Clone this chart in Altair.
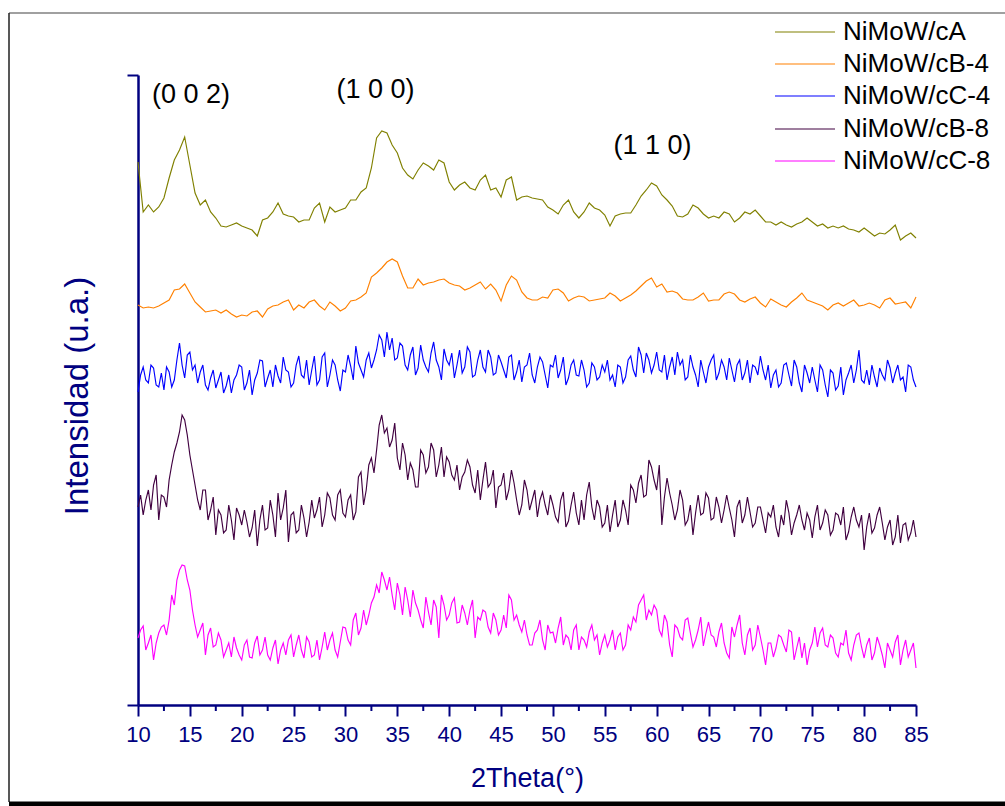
import altair as alt
import pandas as pd

# 2-theta grids (degrees): main readings every 0.5 deg, extra readings in between for noisy patterns
two_theta = [round(10 + 0.5 * i, 2) for i in range(151)]
half_theta = [round(10.25 + 0.5 * i, 2) for i in range(150)]

# intensities (a.u., curves offset vertically as in the original figure)
cA = [543, 493, 500, 493, 498, 507, 527, 545, 555, 568,
      540, 512, 500, 505, 493, 487, 479, 478, 480, 482,
      479, 477, 475, 469, 485, 487, 493, 502, 491, 489,
      488, 483, 485, 485, 497, 502, 483, 498, 493, 495,
      497, 505, 505, 513, 517, 537, 567, 574, 572, 560,
      552, 537, 530, 526, 535, 542, 539, 535, 545, 542,
      523, 515, 520, 523, 517, 515, 525, 530, 515, 517,
      508, 525, 528, 505, 508, 509, 507, 506, 505, 498,
      495, 491, 500, 505, 493, 487, 493, 502, 497, 495,
      490, 479, 489, 491, 492, 492, 500, 509, 515, 522,
      519, 510, 505, 499, 489, 488, 491, 500, 497, 491,
      487, 489, 487, 493, 491, 483, 487, 493, 491, 495,
      489, 483, 483, 480, 483, 480, 478, 481, 483, 487,
      483, 479, 481, 477, 479, 477, 479, 476, 475, 473,
      477, 473, 469, 472, 471, 475, 480, 465, 469, 472,
      467]

cB4 = [400, 397, 398, 397, 399, 402, 405, 415, 416, 421,
       412, 403, 398, 393, 394, 395, 392, 395, 391, 388,
       390, 389, 393, 394, 388, 396, 399, 400, 403, 405,
       395, 400, 397, 403, 405, 399, 395, 403, 399, 394,
       397, 404, 405, 408, 412, 428, 432, 437, 443, 446,
       443, 429, 417, 417, 426, 420, 422, 423, 425, 426,
       422, 420, 419, 415, 417, 420, 423, 416, 421, 415,
       404, 420, 429, 425, 413, 407, 405, 405, 408, 407,
       415, 416, 412, 404, 407, 409, 408, 404, 405, 406,
       407, 412, 409, 404, 407, 410, 414, 419, 424, 427,
       418, 421, 413, 414, 412, 406, 405, 405, 408, 412,
       404, 405, 405, 411, 413, 411, 405, 403, 406, 408,
       402, 398, 406, 403, 400, 398, 403, 407, 412, 405,
       403, 401, 399, 395, 400, 402, 399, 402, 405, 399,
       400, 402, 400, 397, 405, 407, 401, 402, 403, 397,
       408]

cC4 = [313, 338, 322, 337, 318, 315, 333, 325, 362, 327,
       353, 340, 333, 320, 327, 317, 333, 319, 312, 330,
       338, 322, 310, 332, 344, 327, 318, 329, 348, 333,
       322, 349, 327, 320, 349, 325, 352, 330, 340, 314,
       333, 339, 359, 335, 345, 337, 355, 365, 373, 367,
       347, 359, 335, 358, 337, 345, 333, 363, 338, 356,
       340, 327, 355, 338, 353, 330, 355, 333, 348, 332,
       343, 327, 350, 333, 323, 340, 330, 338, 343, 317,
       338, 327, 348, 327, 345, 329, 335, 322, 338, 328,
       333, 325, 318, 338, 328, 349, 328, 350, 352, 332,
       353, 333, 325, 348, 353, 345, 328, 338, 318, 333,
       338, 350, 332, 338, 347, 323, 345, 332, 322, 338,
       349, 325, 317, 335, 322, 342, 319, 338, 313, 332,
       338, 313, 335, 308, 332, 319, 310, 332, 322, 355,
       322, 320, 328, 337, 325, 337, 332, 325, 313, 338,
       318]
cC4_half = [330, 325, 340, 320, 332, 338, 318, 345, 340, 350,
            335, 322, 340, 315, 335, 325, 312, 330, 325, 340,
            315, 335, 325, 345, 318, 335, 340, 322, 335, 318,
            340, 330, 345, 335, 320, 348, 318, 345, 325, 335,
            350, 325, 342, 328, 352, 345, 370, 348, 355, 345,
            362, 340, 350, 330, 360, 338, 352, 345, 325, 345,
            352, 340, 332, 358, 328, 345, 338, 355, 330, 350,
            335, 348, 325, 345, 338, 352, 322, 348, 330, 340,
            350, 335, 320, 340, 330, 345, 318, 342, 325, 340,
            345, 330, 340, 322, 345, 335, 358, 332, 345, 340,
            335, 350, 338, 330, 340, 325, 350, 330, 345, 322,
            345, 325, 345, 325, 335, 340, 325, 345, 340, 330,
            335, 340, 330, 318, 340, 330, 345, 322, 340, 322,
            325, 340, 320, 335, 315, 338, 325, 340, 335, 325,
            335, 340, 318, 330, 345, 322, 340, 328, 340, 325]

cB8 = [198, 190, 215, 220, 185, 208, 225, 253, 273, 285,
       250, 220, 195, 215, 195, 170, 190, 175, 185, 197,
       180, 183, 177, 159, 200, 177, 190, 212, 197, 163,
       193, 175, 187, 183, 187, 208, 190, 207, 185, 215,
       188, 210, 193, 233, 215, 247, 255, 290, 277, 265,
       247, 262, 225, 235, 218, 250, 238, 255, 240, 228,
       243, 225, 215, 233, 238, 212, 205, 243, 222, 197,
       220, 205, 235, 205, 200, 215, 205, 188, 213, 190,
       200, 183, 213, 184, 213, 180, 185, 223, 185, 198,
       182, 173, 205, 185, 195, 220, 202, 230, 210, 238,
       215, 180, 227, 200, 195, 205, 185, 170, 210, 192,
       207, 187, 198, 195, 197, 168, 205, 190, 193, 182,
       198, 172, 188, 178, 190, 205, 170, 190, 185, 192,
       167, 200, 182, 190, 175, 190, 198, 173, 198, 178,
       155, 192, 177, 198, 165, 185, 168, 162, 182, 172,
       168]
cB8_half = [210, 205, 195, 230, 210, 198, 240, 262, 290, 270,
            235, 205, 215, 185, 208, 195, 172, 200, 165, 190,
            195, 168, 195, 185, 175, 205, 168, 185, 215, 190,
            172, 200, 168, 205, 195, 178, 212, 190, 210, 192,
            205, 185, 228, 200, 240, 232, 280, 272, 258, 282,
            235, 250, 242, 218, 255, 232, 262, 228, 258, 248,
            230, 240, 228, 245, 220, 235, 225, 218, 235, 218,
            232, 215, 222, 190, 225, 195, 215, 205, 200, 210,
            188, 205, 178, 200, 192, 205, 210, 198, 205, 178,
            200, 190, 178, 205, 180, 215, 222, 208, 245, 225,
            240, 208, 212, 185, 215, 180, 200, 192, 190, 212,
            185, 208, 182, 210, 185, 198, 182, 208, 178, 198,
            185, 192, 200, 168, 180, 192, 182, 200, 175, 185,
            188, 175, 195, 170, 192, 180, 165, 188, 185, 190,
            178, 172, 190, 182, 178, 160, 190, 180, 165, 185]

cC8 = [67, 79, 62, 45, 72, 80, 85, 100, 135, 139,
       115, 80, 75, 50, 77, 60, 65, 55, 48, 57,
       45, 65, 47, 69, 55, 50, 57, 41, 62, 65,
       48, 70, 47, 63, 50, 45, 73, 65, 55, 63,
       77, 60, 92, 77, 80, 102, 120, 133, 115, 110,
       122, 90, 105, 115, 95, 77, 93, 105, 67, 100,
       90, 107, 83, 92, 95, 67, 85, 93, 72, 85,
       75, 77, 105, 90, 73, 70, 60, 75, 65, 80,
       73, 77, 60, 67, 75, 55, 65, 73, 65, 50,
       70, 65, 55, 72, 60, 75, 83, 105, 85, 90,
       95, 69, 83, 48, 77, 65, 87, 58, 75, 59,
       83, 68, 73, 62, 47, 68, 90, 50, 77, 60,
       68, 40, 62, 57, 68, 53, 73, 57, 47, 40,
       62, 58, 77, 58, 67, 48, 60, 52, 60, 72,
       47, 67, 52, 60, 37, 55, 63, 40, 65, 55,
       37]
cC8_half = [75, 55, 70, 62, 78, 70, 110, 125, 140, 125,
            95, 68, 82, 70, 58, 72, 48, 62, 68, 50,
            60, 48, 62, 50, 68, 45, 65, 55, 50, 70,
            60, 55, 68, 48, 65, 58, 55, 72, 48, 78,
            65, 85, 70, 95, 90, 108, 112, 125, 128, 95,
            110, 118, 88, 102, 85, 108, 80, 98, 110, 85,
            102, 82, 100, 80, 105, 88, 95, 78, 92, 70,
            90, 110, 85, 80, 85, 60, 72, 85, 55, 72,
            62, 88, 70, 55, 80, 68, 58, 80, 70, 62,
            58, 75, 68, 55, 80, 88, 100, 110, 95, 100,
            75, 90, 60, 80, 68, 85, 72, 65, 88, 72,
            70, 58, 82, 52, 78, 80, 62, 70, 55, 80,
            55, 62, 48, 70, 60, 75, 45, 68, 62, 55,
            78, 72, 60, 70, 52, 62, 75, 45, 70, 58,
            60, 45, 68, 50, 62, 48, 70, 55, 48, 62]

names = ["NiMoW/cA", "NiMoW/cB-4", "NiMoW/cC-4", "NiMoW/cB-8", "NiMoW/cC-8"]
colors = ["#808000", "#FF8000", "#0000FF", "#400040", "#FF00FF"]
series = [cA, cB4, cC4, cB8, cC8]
series_half = [[], [], cC4_half, cB8_half, cC8_half]

peak_labels = ["(0 0 2)", "(1 0 0)", "(1 1 0)"]
peak_x = [15.1, 32.9, 59.6]
peak_y = [610, 615, 559]

major_ticks = list(range(10, 90, 5))
minor_ticks = [12.5 + 5 * i for i in range(15)]

NAVY = "#000080"
FONT = "Liberation Sans"

xscale = alt.Scale(domain=[10, 85], nice=False, zero=False)
yscale = alt.Scale(domain=[0, 630], nice=False, zero=False)
xaxis = alt.Axis(values=major_ticks, title="2Theta(°)", grid=False, labelFlush=False,
                 labelOverlap=False, labelBound=False)
yaxis = alt.Axis(values=[0, 630], labels=False, title=None, grid=False)


def X(field):
    return alt.X(field, scale=xscale, axis=xaxis)


def Y(field):
    return alt.Y(field, scale=yscale, axis=yaxis)


layers = []
for i, (name, vals, hv) in enumerate(zip(names, series, series_half)):
    d = pd.DataFrame({"theta": two_theta[:len(vals)] + half_theta[:len(hv)],
                      "I": vals[:len(two_theta)] + hv[:len(half_theta)]})
    d = d.sort_values("theta")
    layers.append(
        alt.Chart(d).mark_line(color=colors[i], strokeWidth=1.15).encode(
            x=X("theta:Q"), y=Y("I:Q"), order="theta:Q")
    )

# minor ticks on x axis
layers.append(
    alt.Chart(pd.DataFrame({"theta": minor_ticks})).mark_rule(color=NAVY, strokeWidth=2).encode(
        x=X("theta:Q"), y=alt.value(630), y2=alt.value(636))
)

# peak annotations
layers.append(
    alt.Chart(pd.DataFrame({"lab": peak_labels, "theta": peak_x, "I": peak_y})).mark_text(
        fontSize=27, font=FONT, color="black", align="center", baseline="middle").encode(
        x=X("theta:Q"), y=Y("I:Q"), text="lab:N")
)

# y title
layers.append(
    alt.Chart(pd.DataFrame({"t": ["Intensidad (u.a.)"]})).mark_text(
        fontSize=33, font=FONT, color=NAVY, angle=270, align="center", baseline="middle").encode(
        x=alt.value(-60), y=alt.value(321), text="t:N")
)

# manual legend
leg_y = [-43, -11, 21, 54, 86]
for name, col, ly in zip(names, colors, leg_y):
    dd = pd.DataFrame({"t": [name]})
    layers.append(alt.Chart(dd).mark_rule(color=col, strokeWidth=1.2).encode(
        x=alt.value(637), x2=alt.value(697), y=alt.value(ly)))
    layers.append(alt.Chart(dd).mark_text(fontSize=26, font=FONT, color="black", align="left",
                                          baseline="middle").encode(
        x=alt.value(705), y=alt.value(ly), text="t:N"))

# outer frame
fr = pd.DataFrame({"a": [0]})
layers.append(alt.Chart(fr).mark_rule(color="#808080", strokeWidth=1.5).encode(
    x=alt.value(-129), x2=alt.value(880), y=alt.value(-62)))
layers.append(alt.Chart(fr).mark_rule(color="#202020", strokeWidth=1.5).encode(
    x=alt.value(-129), y=alt.value(-62), y2=alt.value(727)))
layers.append(alt.Chart(fr).mark_rule(color="black", strokeWidth=5).encode(
    x=alt.value(-129), x2=alt.value(880), y=alt.value(729)))

chart = alt.layer(*layers).properties(
    width=778, height=630,
    autosize=alt.AutoSizeParams(type="none"),
    padding={"left": 138, "top": 75, "right": 89, "bottom": 101},
    background="white",
).configure_view(stroke=None).configure_axis(
    domainColor=NAVY, domainWidth=2.5, tickColor=NAVY, tickWidth=2, tickSize=11,
    labelColor=NAVY, labelFontSize=22, labelFont=FONT, labelPadding=8,
    titleColor=NAVY, titleFontSize=27, titleFont=FONT, titleFontWeight="normal", titlePadding=20,
)

chart.save("out.html", embed_options={"renderer": "svg", "actions": False})
